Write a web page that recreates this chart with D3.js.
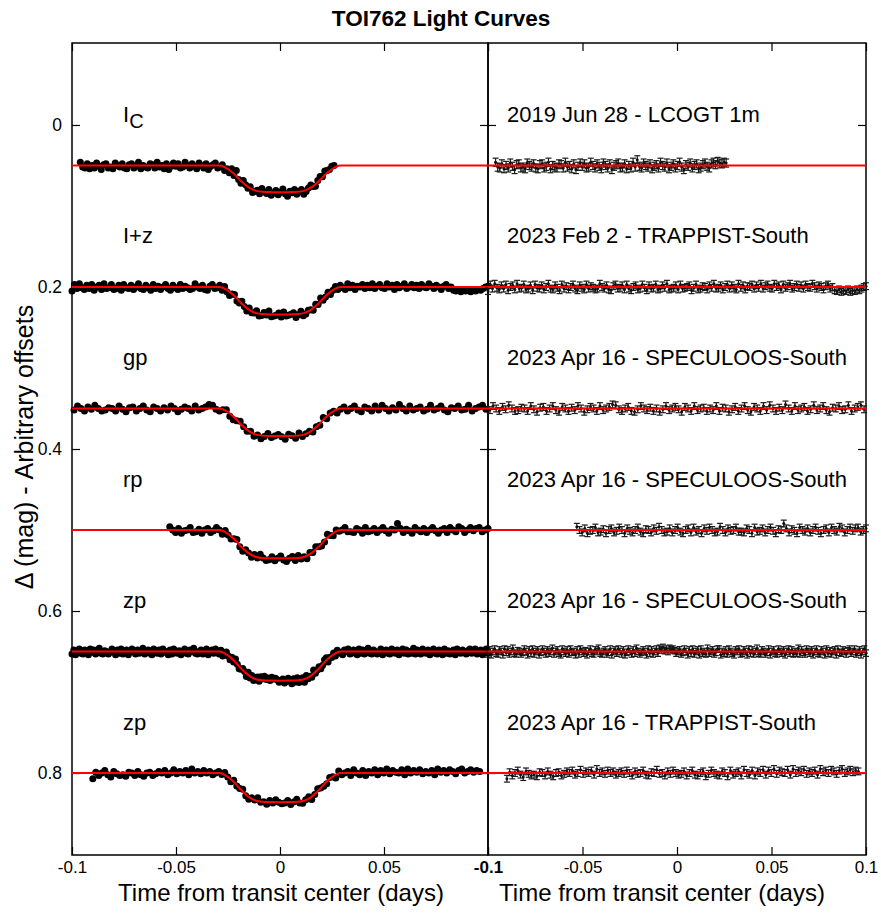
<!DOCTYPE html>
<html><head><meta charset="utf-8">
<script src="https://cdn.jsdelivr.net/npm/d3@7"></script>
<style>body{margin:0;background:#fff} svg{display:block} text{font-family:"Liberation Sans",Arial,Helvetica,sans-serif;fill:#000}</style>
</head><body><svg id="c" width="881" height="913"></svg>
<script>
// ---------------- data ----------------
const chartTitle = "TOI762 Light Curves";
const bandLabels = ["I", "I+z", "gp", "rp", "zp", "zp"];
const bandSubs = ["C", "", "", "", "", ""];
const obsLabels = ["2019 Jun 28 - LCOGT 1m", "2023 Feb 2 - TRAPPIST-South", "2023 Apr 16 - SPECULOOS-South",
                   "2023 Apr 16 - SPECULOOS-South", "2023 Apr 16 - SPECULOOS-South", "2023 Apr 16 - TRAPPIST-South"];
const offsets = [0.05, 0.2, 0.35, 0.5, 0.65, 0.8];
const depths = [0.033, 0.034, 0.034, 0.035, 0.036, 0.036];
const tStart = [-0.096, -0.1, -0.099, -0.053, -0.1, -0.09];
const tEnd = [0.026, 0.1, 0.099, 0.1, 0.1, 0.096];
const errSizes = [0.005, 0.0042, 0.0042, 0.0042, 0.004, 0.0042];
// transit model shape (fraction of depth)
const modelT = [-0.1, -0.0288, -0.0262, -0.0224, -0.0185, -0.0144, -0.0115, -0.0085, -0.004, 0,
                0.004, 0.0085, 0.0115, 0.0144, 0.0185, 0.0224, 0.0262, 0.0288, 0.1];
const modelF = [0, 0, 0.08, 0.29, 0.6, 0.85, 0.95, 0.985, 0.997, 1,
                0.997, 0.985, 0.95, 0.85, 0.6, 0.29, 0.08, 0, 0];
const yTickValues = [0, 0.2, 0.4, 0.6, 0.8];
const xTickValues = [-0.1, -0.05, 0, 0.05, 0.1];
// residuals in mmag (positive = fainter = lower on the plot)
const residIc = [
 -4,2,3,-2,4,0,3,-3,1,5,-1,-2,3,2,4,-3,0,2,-2,3,
 4,-1,-2,3,1,-4,4,0,2,3,-2,-1,3,-4,2,0,4,-2,5,1,
 -3,1,-2,3,2,-4,0,3,-2,1,4,-3,0,3,-2,5,1,-1,-3,3,
 2,-2,4,0,3,-4,2,-7,1,3,-3,0,2,-2,4,1,-1,3,-4,0,
 2,-3,4,1,-2,3,0,-4,2,5,-1,1,-3,3,0,-2,4,2,-1,-3,
 1,3,-2,-4,-1,-5,-3,-2,-4,-3];
const residIz = [
 5,-3,2,-4,1,3,-2,2,-3,4,0,-2,3,-4,2,1,-3,3,2,-2,
 4,-3,1,2,-2,3,0,-4,2,3,-2,1,4,-3,2,-1,3,0,-3,2,
 4,-2,1,3,-3,2,-1,1,3,2,-4,0,2,-2,3,4,-1,-3,2,1,
 -2,3,-3,2,4,0,-2,3,2,-3,1,4,-2,2,1,-3,3,2,-2,1,
 -4,3,2,1,-2,3,-3,2,1,0,-2,4,1,-3,3,2,-1,0,3,-2,
 1,-4,2,1,-2,3,0,-3,2,-2,1,3,-4,1,-2,3,-1,0,-3,2,
 -2,1,-4,2,-1,-3,1,2,-4,0,-2,3,-3,1,-1,-4,2,0,-3,1,
 -2,2,-3,0,1,-4,-1,2,-2,0,3,-1,-3,2,0,4,5,3,6,4,
 5,3,6,4,5,3,4,2,0,-1];
const residGp = [
 2,-3,0,3,-2,1,-4,0,3,2,-1,0,3,-3,1,4,-1,-2,3,0,
 -3,2,4,-2,0,3,-1,2,-3,0,4,1,-2,0,3,-3,2,0,-2,-5,
 -4,1,3,0,-2,3,4,1,-3,0,2,-1,3,0,4,1,-3,2,0,-2,
 1,4,-2,0,3,-3,2,0,-1,3,0,2,-3,3,-1,0,4,1,-2,3,
 0,-3,2,4,-2,0,3,-3,2,-4,0,3,-1,2,-5,0,3,-3,2,0,
 -2,3,1,-4,2,0,-3,2,4,-1,0,-3,2,1,-4,3,0,-2,-4,1];
const residRp = [
 -4,0,3,-2,4,1,0,-3,3,2,-1,4,0,-2,3,1,-3,0,4,-2,
 1,3,0,-3,2,4,-1,0,3,-2,1,-4,0,3,2,-2,3,0,-3,2,
 4,0,-2,3,-3,2,0,4,-2,1,-3,0,3,2,-4,0,3,-2,1,0,
 -3,2,2,3,-2,0,4,-3,2,1,-2,3,0,-3,1,4,-1,0,-8,-2,
 3,-1,1,4,-3,0,2,-2,3,0,-3,1,4,0,-2,3,-3,0,2,-4,
 -2,3,0,-3,1,-2,-3,2,0,-2];
const residZpS = [
 3,-2,4,0,-3,2,3,-2,0,4,-3,1,-2,3,0,-4,2,3,-1,0,
 3,1,-3,0,4,-2,2,-3,3,0,-2,4,1,-3,0,3,-2,2,0,-4,
 3,0,-2,2,4,-3,0,2,-2,3,-3,1,0,4,-2,3,-3,0,2,-1,
 4,0,-3,2,3,-2,0,-4,2,3,0,-2,3,1,-3,4,0,-2,2,-3,
 0,3,-2,4,1,-3,0,3,-2,2,-4,0,3,1,-2,0,4,-3,2,-2,
 3,0,-3,2,-4,-2,-5,-1,-3,0,-4,-2,-3,-1,2,0,-2,3,1,-3,
 0,4,-2,2,-3,3,0,-2,4,-3,2,0,3,-4,2,0,-2,3,1,-3,
 -3,4,0,2,-2,3,-3,0,2,4,-2,0,-3,3,2,-2,0,4,-3,2,
 -2,3,0,-4,2,3,-2,0,3,1,-3,4,0,-2,2,3,-3,0,2,-2,
 4,0,-3,2,-2,3,0,2,-4,3,-2,1,3,-3,0,2,-2,4,0,-3,
 2,3,-2,0,4,-3,2,-1,3,0,-2,4,-3,1,2,-2,0,3,-1,-3,
 2,0,-3,3,1,-2,4,0,-3,2];
const residZpT = [
 7,-1,3,0,-3,2,5,-2,1,3,2,4,-1,0,3,-2,2,4,0,-1,
 3,1,-2,0,-3,2,0,-4,1,-2,0,-3,2,-5,0,-2,1,-3,0,-2,
 2,0,-2,1,-3,0,3,-2,1,0,-3,2,3,-1,0,-4,1,0,3,-2,
 1,-3,0,2,1,-2,3,0,-3,2,3,0,-2,4,1,-3,0,2,3,-2,
 0,4,-3,2,0,-2,3,-4,0,2,-3,3,-2,0,-4,2,-3,0,-5,1,
 -3,-1,0,-4,2,-5,0,-3,-1,-4,1,-2,0,-3,2,-5,-1,-3,0,-4,
 -2,1,-3,-5,0,-2,-4,-1,-3,-2];
const residuals = [residIc, residIz, residGp, residRp, residZpS, residZpT];

// ---------------- layout ----------------
const svg = d3.select("#c");
const plotTop = 43, plotBottom = 855;
const xL = d3.scaleLinear().domain([-0.1, 0.1]).range([72, 488]);
const xR = d3.scaleLinear().domain([-0.1, 0.1]).range([488, 866]);
const y = d3.scaleLinear().domain([-0.1012, 0.9012]).range([plotTop, plotBottom]);
const shape = d3.scaleLinear().domain(modelT).range(modelF).clamp(true);

// frames
[xL, xR].forEach(x => {
  svg.append("rect").attr("x", x.range()[0]).attr("y", plotTop)
    .attr("width", x.range()[1] - x.range()[0]).attr("height", plotBottom - plotTop)
    .attr("fill", "none").attr("stroke", "#000").attr("stroke-width", 1.5);
});

// axes (inward ticks)
function styleAxis(g, fs) {
  g.select(".domain").remove();
  g.selectAll(".tick line").attr("stroke", "#000").attr("stroke-width", 1.2);
  g.selectAll("text").attr("font-size", fs).attr("font-family", "Liberation Sans, Arial, sans-serif").attr("fill", "#000");
}
// left panel
svg.append("g").attr("transform", `translate(${xL.range()[0]},0)`)
  .call(d3.axisLeft(y).tickValues(yTickValues).tickSize(-8).tickPadding(10).tickFormat(d => String(d)))
  .call(g => styleAxis(g, 17.5));
svg.append("g").attr("transform", `translate(${xL.range()[1]},0)`)
  .call(d3.axisRight(y).tickValues(yTickValues).tickSize(-8).tickFormat(""))
  .call(g => styleAxis(g, 17.5));
// the left panel's 0.1 label coincides with the right panel's -0.1 label
svg.append("g").attr("transform", `translate(0,${plotBottom})`)
  .call(d3.axisBottom(xL).tickValues(xTickValues).tickSize(-8).tickPadding(6)
    .tickFormat(d => d === 0.1 ? "" : String(d)))
  .call(g => styleAxis(g, 17));
svg.append("g").attr("transform", `translate(0,${plotTop})`)
  .call(d3.axisTop(xL).tickValues(xTickValues).tickSize(-8).tickFormat(""))
  .call(g => styleAxis(g, 17));
// right panel
svg.append("g").attr("transform", `translate(${xR.range()[0]},0)`)
  .call(d3.axisLeft(y).tickValues(yTickValues).tickSize(-8).tickFormat(""))
  .call(g => styleAxis(g, 17.5));
svg.append("g").attr("transform", `translate(${xR.range()[1]},0)`)
  .call(d3.axisRight(y).tickValues(yTickValues).tickSize(-8).tickFormat(""))
  .call(g => styleAxis(g, 17.5));
svg.append("g").attr("transform", `translate(0,${plotBottom})`)
  .call(d3.axisBottom(xR).tickValues(xTickValues).tickSize(-8).tickPadding(6).tickFormat(d => String(d)))
  .call(g => styleAxis(g, 17))
  .call(g => g.selectAll(".tick text").filter(d => d === -0.1).attr("font-weight", "bold"));
svg.append("g").attr("transform", `translate(0,${plotTop})`)
  .call(d3.axisTop(xR).tickValues(xTickValues).tickSize(-8).tickFormat(""))
  .call(g => styleAxis(g, 17));

// ---------------- data layers ----------------
const modelLine = (off, dep) => d3.line()
  .x(t => xL(t)).y(t => y(off + dep * shape(t))).curve(d3.curveMonotoneX);

residuals.forEach((res, k) => {
  const off = offsets[k], dep = depths[k], n = res.length;
  const pts = res.map((r, i) => {
    const t = tStart[k] + i * (tEnd[k] - tStart[k]) / (n - 1);
    return { t, r: r / 1000, m: off + dep * shape(t) + r / 1000 };
  });
  // left: data points
  svg.append("g").selectAll("circle").data(pts).join("circle")
    .attr("cx", d => xL(d.t)).attr("cy", d => y(d.m)).attr("r", 3.5).attr("fill", "#000");
  // left: model
  svg.append("path").datum(modelT).attr("d", modelLine(off, dep))
    .attr("fill", "none").attr("stroke", "#ff0000").attr("stroke-width", 2);
  // right: residuals with error bars
  const e = errSizes[k];
  const gR = svg.append("g").attr("stroke", "#1a1a1a").attr("stroke-width", 1.2);
  const eb = gR.selectAll("g").data(pts).join("g");
  eb.append("line").attr("x1", d => xR(d.t)).attr("x2", d => xR(d.t))
    .attr("y1", d => y(off + d.r - e)).attr("y2", d => y(off + d.r + e));
  eb.append("line").attr("x1", d => xR(d.t) - 3).attr("x2", d => xR(d.t) + 3)
    .attr("y1", d => y(off + d.r - e)).attr("y2", d => y(off + d.r - e));
  eb.append("line").attr("x1", d => xR(d.t) - 3).attr("x2", d => xR(d.t) + 3)
    .attr("y1", d => y(off + d.r + e)).attr("y2", d => y(off + d.r + e));
  svg.append("g").selectAll("circle").data(pts).join("circle")
    .attr("cx", d => xR(d.t)).attr("cy", d => y(off + d.r)).attr("r", 1.5).attr("fill", "#111");
  svg.append("line").attr("x1", xR(-0.1)).attr("x2", xR(0.1)).attr("y1", y(off)).attr("y2", y(off))
    .attr("stroke", "#ff0000").attr("stroke-width", 2);

  // labels
  const by = y(off) - 43.5;
  const lt = svg.append("text").attr("x", 123).attr("y", by).attr("font-size", 22).text(bandLabels[k]);
  if (bandSubs[k]) lt.append("tspan").attr("dy", 6).attr("font-size", 20).text(bandSubs[k]);
  svg.append("text").attr("x", 507).attr("y", by).attr("font-size", 22).text(obsLabels[k]);
});

// titles
svg.append("text").attr("x", 441).attr("y", 26).attr("text-anchor", "middle")
  .attr("font-size", 22.5).attr("font-weight", "bold").text(chartTitle);
svg.append("text").attr("x", 281).attr("y", 901).attr("text-anchor", "middle")
  .attr("font-size", 24).text("Time from transit center (days)");
svg.append("text").attr("x", 662).attr("y", 901).attr("text-anchor", "middle")
  .attr("font-size", 24).text("Time from transit center (days)");
svg.append("text").attr("transform", "translate(33,447) rotate(-90)").attr("text-anchor", "middle")
  .attr("font-size", 25).text("Δ (mag) - Arbitrary offsets");
</script></body></html>
